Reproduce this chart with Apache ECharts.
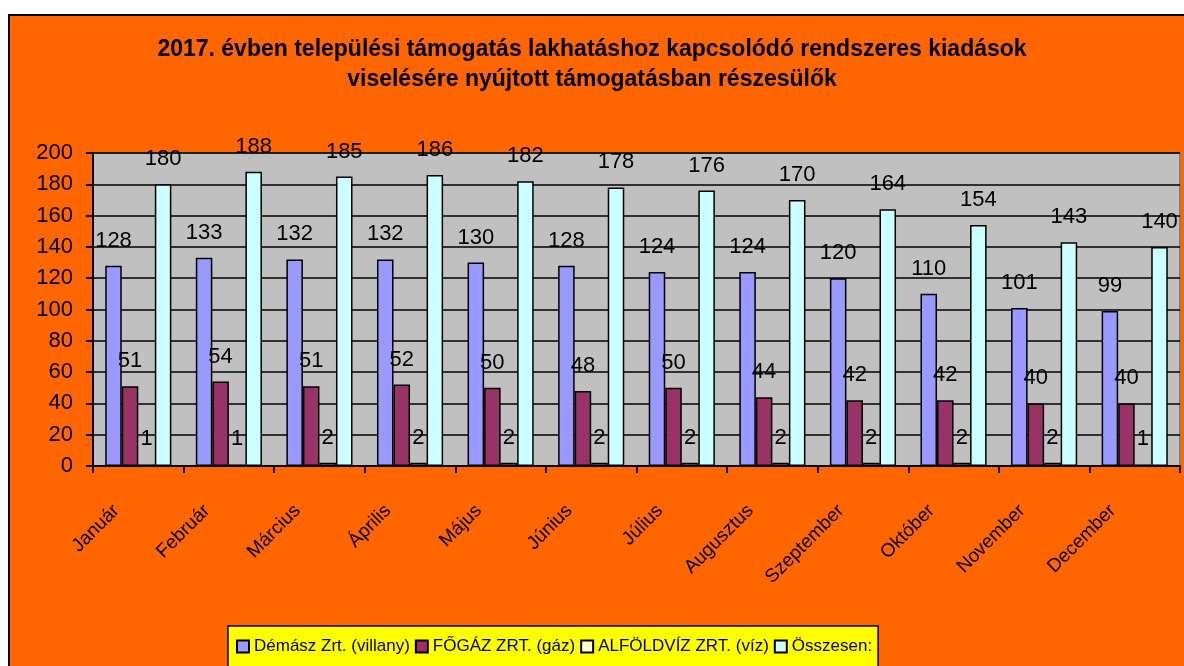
<!DOCTYPE html>
<html>
<head>
<meta charset="utf-8">
<script src="https://cdn.jsdelivr.net/npm/echarts@6/dist/echarts.min.js"></script>
<style>
  body { margin: 0; background: #fff; }
  #frame { position: absolute; left: 8px; top: 14px; width: 1200px; height: 700px;
           background: #ff6600; border-left: 2px solid #000; border-top: 2px solid #000; }
  #echarts_main { position: absolute; left: 0; top: 0; width: 1184px; height: 666px; }
</style>
</head>
<body>
<div id="frame"></div>
<div id="echarts_main"></div>
<script>
// havi adatok
var months = ['Január', 'Február', 'Március', 'Április', 'Május', 'Június',
  'Július', 'Augusztus', 'Szeptember', 'Október', 'November', 'December'];
var seriesNames = ['Démász Zrt. (villany)', 'FŐGÁZ ZRT. (gáz)', 'ALFÖLDVÍZ ZRT. (víz)', 'Összesen:'];
var villany = [128, 133, 132, 132, 130, 128, 124, 124, 120, 110, 101, 99];
var gaz = [51, 54, 51, 52, 50, 48, 50, 44, 42, 42, 40, 40];
var viz = [1, 1, 2, 2, 2, 2, 2, 2, 2, 2, 2, 1];
var osszesen = [180, 188, 185, 186, 182, 178, 176, 170, 164, 154, 143, 140];
var yTicks = [0, 20, 40, 60, 80, 100, 120, 140, 160, 180, 200];

var colors = ['#9999ff', '#993366', '#ffffcc', '#ccffff'];
var font = 'Liberation Sans, Arial, sans-serif';

function makeBar(name, data, color) {
  return {
    name: name,
    type: 'bar',
    data: data,
    barGap: 0,
    barCategoryGap: '27%',
    itemStyle: { color: color, borderColor: '#000', borderWidth: 1.5 },
    label: {
      show: true,
      position: 'top',
      distance: 14,
      color: '#000',
      fontSize: 22,
      fontFamily: font
    }
  };
}

var myChart = echarts.init(document.getElementById('echarts_main'));
myChart.setOption({
  backgroundColor: 'transparent',
  animation: false,
  color: colors,
  title: {
    text: '2017. évben települési támogatás lakhatáshoz kapcsolódó rendszeres kiadások\nviselésére nyújtott támogatásban részesülők',
    left: 'center',
    top: 30,
    textStyle: { fontSize: 23, fontWeight: 'bold', color: '#000', fontFamily: font, lineHeight: 30 }
  },
  legend: {
    left: 228,
    top: 626,
    padding: [12, 6, 30, 8],
    backgroundColor: '#ffff00',
    borderColor: '#000',
    borderWidth: 1.5,
    borderRadius: 0,
    itemWidth: 12,
    itemHeight: 12,
    itemGap: 5,
    icon: 'rect',
    textStyle: { fontSize: 17, color: '#000', fontFamily: font, padding: [0, 0, 0, 0] },
    data: seriesNames
  },
  grid: {
    left: 93,
    right: 4,
    top: 153,
    bottom: 200,
    show: true,
    backgroundColor: '#c0c0c0',
    borderColor: '#808080',
    borderWidth: 2
  },
  xAxis: {
    type: 'category',
    data: months,
    axisLine: { lineStyle: { color: '#000', width: 2 } },
    axisTick: { show: true, length: 7, lineStyle: { color: '#000', width: 2 } },
    axisLabel: {
      rotate: 45,
      margin: 20,
      padding: [0, 31, 0, 0],
      fontSize: 19,
      color: '#000',
      fontFamily: font
    }
  },
  yAxis: {
    type: 'value',
    min: yTicks[0],
    max: yTicks[yTicks.length - 1],
    interval: 20,
    axisLine: { show: true, lineStyle: { color: '#000', width: 2 } },
    axisTick: { show: true, length: 7, lineStyle: { color: '#000', width: 2 } },
    splitLine: { lineStyle: { color: '#000', width: 1.5 } },
    axisLabel: { margin: 20, fontSize: 22, color: '#000', fontFamily: font }
  },
  series: [
    makeBar(seriesNames[0], villany, colors[0]),
    makeBar(seriesNames[1], gaz, colors[1]),
    makeBar(seriesNames[2], viz, colors[2]),
    makeBar(seriesNames[3], osszesen, colors[3])
  ]
});
</script>
</body>
</html>
